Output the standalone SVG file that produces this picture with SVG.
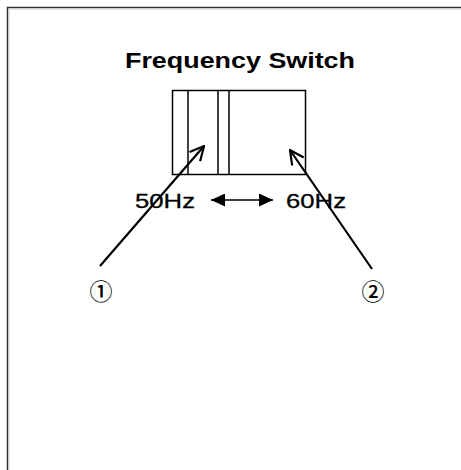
<svg xmlns="http://www.w3.org/2000/svg" width="461" height="470" viewBox="0 0 461 470">
<defs>
<style>
.ln{stroke:#000;stroke-width:1.5;fill:none}
.ar{stroke:#000;stroke-width:2.2;fill:none}
.lbl{font-family:"Liberation Sans",Arial,sans-serif;font-size:20px;fill:#000;stroke:#000;stroke-width:0.3}
.ttl{font-family:"Liberation Sans",Arial,sans-serif;font-size:22px;font-weight:bold;fill:#000}
.num{font-family:"Noto Sans CJK KR","Noto Sans CJK SC",sans-serif;font-size:23px;font-weight:500;fill:#000}
</style>
<marker id="open" viewBox="0 0 16 16" refX="15" refY="8" markerWidth="16" markerHeight="16" markerUnits="userSpaceOnUse" orient="auto">
<path d="M1,1 L15,8 L1,15" fill="none" stroke="#000" stroke-width="2.2"/>
</marker>
<marker id="tri" viewBox="0 0 14 13" refX="14" refY="6.5" markerWidth="14" markerHeight="13" markerUnits="userSpaceOnUse" orient="auto-start-reverse">
<path d="M0,0 L14,6.5 L0,13 Z" fill="#000"/>
</marker>
</defs>
<rect width="461" height="470" fill="#fff"/>
<g id="frame">
<path d="M7.5,470 V7.5 H461" stroke="#333" stroke-width="1.5" fill="none"/>
<path d="M9,470 V9 H461" stroke="#ccc" stroke-width="1" fill="none"/>
</g>
<g id="title"><text class="ttl" x="240" y="68" text-anchor="middle" textLength="230" lengthAdjust="spacingAndGlyphs">Frequency Switch</text></g>
<g id="switch">
<rect class="ln" x="172.5" y="90.5" width="133" height="84"/>
<line class="ln" x1="188" y1="90.5" x2="188" y2="174.5"/>
<line class="ln" x1="218" y1="90.5" x2="218" y2="174.5"/>
<line class="ln" x1="229" y1="90.5" x2="229" y2="174.5"/>
</g>
<g id="label50"><text class="lbl" x="135" y="208" textLength="60" lengthAdjust="spacingAndGlyphs">50Hz</text></g>
<g id="label60"><text class="lbl" x="286" y="208" textLength="60" lengthAdjust="spacingAndGlyphs">60Hz</text></g>
<g id="marker1"><text class="num" x="101" y="300" text-anchor="middle">①</text></g>
<g id="marker2"><text class="num" x="373" y="300" text-anchor="middle">②</text></g>
<g id="connectors">
<line class="ar" x1="100" y1="266" x2="204" y2="146" marker-end="url(#open)"/>
<line class="ar" x1="372" y1="269" x2="290" y2="150" marker-end="url(#open)"/>
<line stroke="#000" stroke-width="1.5" x1="211" y1="200" x2="273" y2="200" marker-start="url(#tri)" marker-end="url(#tri)"/>
</g>
</svg>
